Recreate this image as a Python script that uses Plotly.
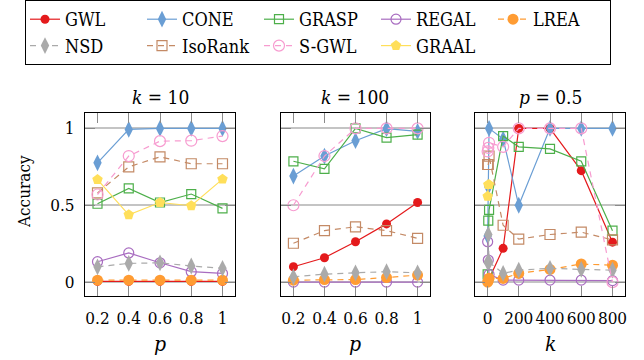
import plotly.graph_objects as go

# x values for each panel
p_vals = [0.2, 0.4, 0.6, 0.8, 1.0]
k_vals = [1, 5, 10, 100, 200, 400, 600, 800]

# accuracy with k = 10, varying p
gwl_k10 = [0.005, 0.005, 0.005, 0.005, 0.005]
cone_k10 = [0.776, 0.993, 1.0, 1.0, 1.0]
grasp_k10 = [0.51, 0.61, 0.518, 0.573, 0.48]
regal_k10 = [0.133, 0.19, 0.126, 0.068, 0.057]
lrea_k10 = [0.013, 0.013, 0.013, 0.013, 0.013]
nsd_k10 = [0.10, 0.122, 0.126, 0.105, 0.09]
isorank_k10 = [0.58, 0.75, 0.815, 0.77, 0.77]
sgwl_k10 = [0.57, 0.82, 0.917, 0.92, 0.95]
graal_k10 = [0.667, 0.438, 0.518, 0.497, 0.67]

# accuracy with k = 100, varying p
gwl_k100 = [0.10, 0.159, 0.263, 0.379, 0.518]
cone_k100 = [0.69, 0.82, 0.92, 0.998, 0.98]
grasp_k100 = [0.786, 0.737, 1.0, 0.94, 0.96]
regal_k100 = [0.0, 0.0, 0.0, 0.0, 0.0]
lrea_k100 = [0.013, 0.017, 0.017, 0.03, 0.046]
nsd_k100 = [0.035, 0.052, 0.061, 0.068, 0.061]
isorank_k100 = [0.253, 0.335, 0.36, 0.335, 0.285]
sgwl_k100 = [0.50, 0.82, 1.0, 1.0, 1.0]
graal_k100 = [None, None, None, None, None]

# accuracy with p = 0.5, varying k
gwl_p05 = [0.0, 0.01, 0.02, 0.22, 1.0, 1.0, 0.725, 0.26]
cone_p05 = [0.30, 0.62, 1.0, 0.93, 0.50, 1.0, 1.0, 1.0]
grasp_p05 = [0.05, 0.40, 0.47, 0.95, 0.88, 0.867, 0.786, 0.335]
regal_p05 = [0.263, 0.144, 0.05, 0.013, 0.013, 0.013, 0.013, 0.01]
lrea_p05 = [0.0, 0.01, 0.026, 0.024, 0.057, 0.083, 0.118, 0.11]
nsd_p05 = [0.13, 0.31, 0.13, 0.057, 0.078, 0.09, 0.083, 0.078]
isorank_p05 = [0.765, 0.765, 0.82, 0.37, 0.28, 0.31, 0.325, 0.275]
sgwl_p05 = [0.85, 0.873, 0.906, 0.88, 1.0, 1.0, 1.0, 0.0]
graal_p05 = [0.558, 0.634, 0.634, None, None, None, None, None]

methods = ["GWL", "CONE", "GRASP", "REGAL", "LREA", "NSD", "IsoRank", "S-GWL", "GRAAL"]
panel_data = [
    (p_vals, [gwl_k10, cone_k10, grasp_k10, regal_k10, lrea_k10, nsd_k10, isorank_k10, sgwl_k10, graal_k10]),
    (p_vals, [gwl_k100, cone_k100, grasp_k100, regal_k100, lrea_k100, nsd_k100, isorank_k100, sgwl_k100, graal_k100]),
    (k_vals, [gwl_p05, cone_p05, grasp_p05, regal_p05, lrea_p05, nsd_p05, isorank_p05, sgwl_p05, graal_p05]),
]

styles = {
    "GWL": dict(color="#e41a1c", symbol="circle", size=9, dash="solid"),
    "CONE": dict(color="#6a9ed4", symbol="diamond-tall", size=12, dash="solid"),
    "GRASP": dict(color="#4daf4a", symbol="square-open", size=9, dash="solid"),
    "REGAL": dict(color="#a86cc0", symbol="circle-open", size=10, dash="solid"),
    "LREA": dict(color="#ff9c33", symbol="circle", size=11, dash="6px,5px"),
    "NSD": dict(color="#aaaaaa", symbol="diamond-tall", size=12, dash="6px,5px"),
    "IsoRank": dict(color="#c48a66", symbol="square-open", size=10, dash="6px,5px"),
    "S-GWL": dict(color="#f79cd0", symbol="circle-open", size=11, dash="6px,5px"),
    "GRAAL": dict(color="#ffdf5a", symbol="pentagon", size=11, dash="solid"),
}

W, H = 644, 360
FONT = "DejaVu Serif Condensed, DejaVu Serif"

fig = go.Figure()

# panel frames in pixels: (left, right), shared top/bottom
panels_px = [(85, 235), (281, 430), (475, 625)]
top_px, bot_px = 113, 296
y_dom = [(H - bot_px) / H, (H - top_px) / H]

for i, (xs, series) in enumerate(panel_data):
    xa = "x" if i == 0 else f"x{i + 1}"
    ya = "y" if i == 0 else f"y{i + 1}"
    for name, ys in zip(methods, series):
        st = styles[name]
        open_marker = st["symbol"].endswith("open")
        fig.add_trace(go.Scatter(
            x=xs, y=ys, mode="lines+markers", name=name,
            legendgroup=name, showlegend=(i == 0),
            xaxis=xa, yaxis=ya, connectgaps=False,
            line=dict(color=st["color"], width=1.2, dash=st["dash"]),
            marker=dict(symbol=st["symbol"], size=st["size"], color=st["color"],
                        line=dict(color=st["color"], width=1.2 if open_marker else 0)),
        ))

axis_common = dict(
    showline=True, linecolor="black", linewidth=1.2, mirror="ticks",
    ticks="inside", ticklen=10, tickcolor="#8a8a8a", tickwidth=1.2,
    zeroline=False, tickfont=dict(family=FONT, size=17, color="black"),
)

xranges = [[0.12, 1.08], [0.12, 1.08], [-80, 880]]
xticks = [
    (p_vals, ["0.2", "0.4", "0.6", "0.8", "1"]),
    (p_vals, ["0.2", "0.4", "0.6", "0.8", "1"]),
    ([0, 200, 400, 600, 800], ["0", "200", "400", "600", "800"]),
]

layout = {}
for i, (l, r) in enumerate(panels_px):
    suffix = "" if i == 0 else str(i + 1)
    layout[f"xaxis{suffix}"] = dict(
        axis_common, domain=[l / W, r / W], range=xranges[i],
        tickvals=xticks[i][0], ticktext=xticks[i][1], showgrid=False,
        anchor=f"y{suffix}", ticklabelstandoff=6,
    )
    layout[f"yaxis{suffix}"] = dict(
        axis_common, domain=y_dom, range=[-0.09, 1.1],
        tickvals=[0, 0.5, 1], ticktext=["0", "0.5", "1"],
        showgrid=True, gridcolor="#c4c4c4", gridwidth=1.5,
        showticklabels=(i == 0), anchor=f"x{suffix}", ticklabelstandoff=6,
    )

titles = ["<i>k</i> = 10", "<i>k</i> = 100", "<i>p</i> = 0.5"]
xlabels = ["<i>p</i>", "<i>p</i>", "<i>k</i>"]
annotations = []
for (l, r), t, xl in zip(panels_px, titles, xlabels):
    cx = (l + r) / 2 / W
    annotations.append(dict(text=t, x=cx, y=(H - 97) / H, xref="paper", yref="paper",
                            showarrow=False, xanchor="center", yanchor="middle",
                            font=dict(family=FONT, size=19, color="black")))
    annotations.append(dict(text=xl, x=cx, y=(H - 344) / H, xref="paper", yref="paper",
                            showarrow=False, xanchor="center", yanchor="middle",
                            font=dict(family=FONT, size=21, color="black")))
annotations.append(dict(text="Accuracy", x=24 / W, y=(H - 192) / H, xref="paper", yref="paper",
                        showarrow=False, textangle=-90, xanchor="center", yanchor="middle",
                        font=dict(family=FONT, size=17, color="black")))

fig.update_layout(
    **layout,
    width=W, height=H,
    margin=dict(l=0, r=0, t=0, b=0, autoexpand=False),
    paper_bgcolor="white", plot_bgcolor="white",
    annotations=annotations,
    showlegend=True,
    legend=dict(
        orientation="h", x=25 / W, y=1.0, xanchor="left", yanchor="top",
        bordercolor="black", borderwidth=1, bgcolor="white",
        font=dict(family=FONT, size=18, color="black"),
        entrywidth=72, entrywidthmode="pixels", itemwidth=30,
        tracegroupgap=0,
    ),
)

fig.write_html("out.html")
